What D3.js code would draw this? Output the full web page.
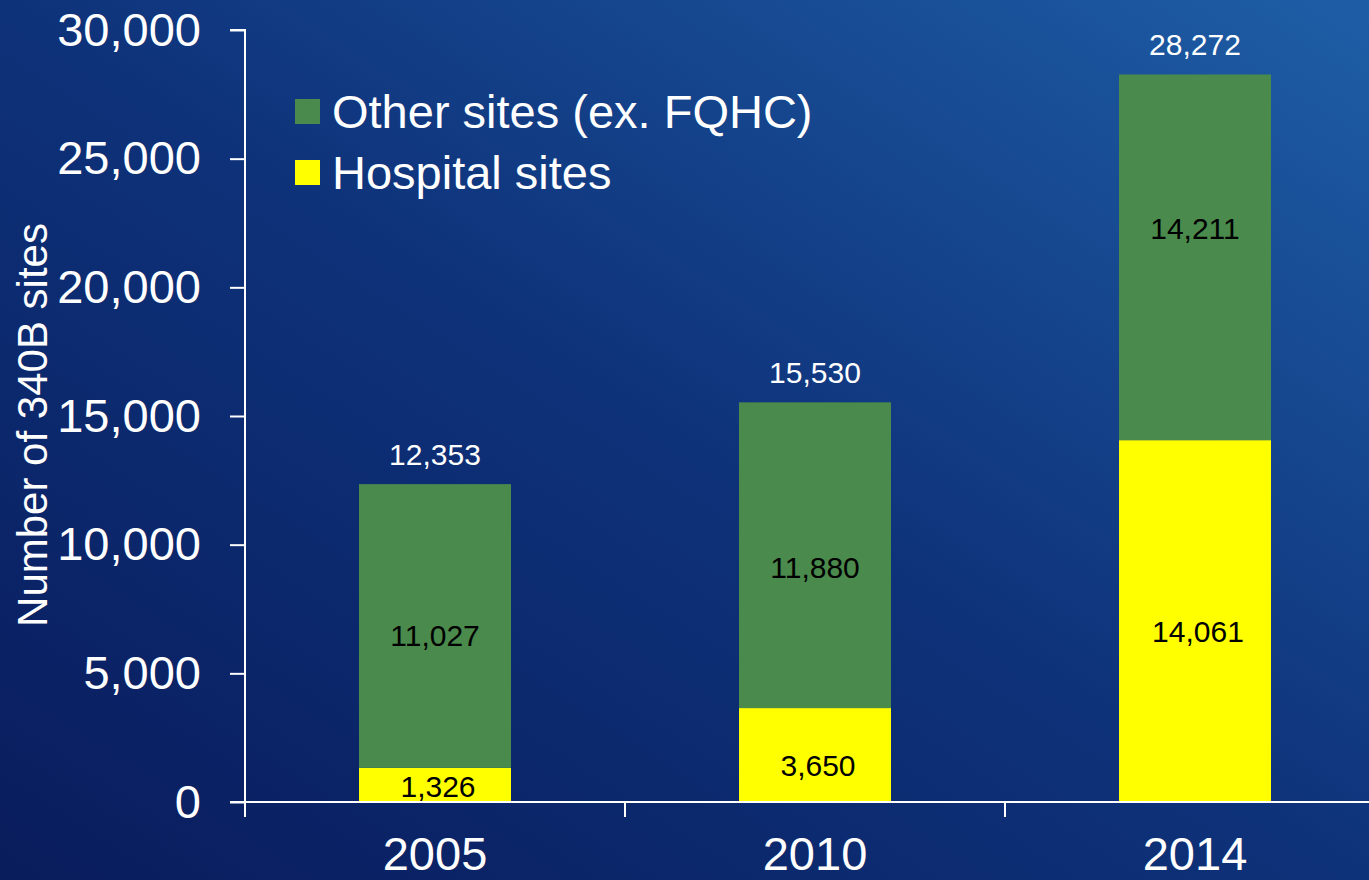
<!DOCTYPE html>
<html>
<head>
<meta charset="utf-8">
<script src="https://cdn.jsdelivr.net/npm/d3@7"></script>
<style>
  html, body { margin: 0; padding: 0; overflow: hidden; }
  svg { display: block; font-family: "Liberation Sans", Arial, sans-serif; }
</style>
</head>
<body>
<svg id="board" width="1369" height="880"></svg>
<script>
// data
let years = ['2005', '2010', '2014']
let hospitalSites = [1326, 3650, 14061]
let otherSites = [11027, 11880, 14211]
let totalSites = [12353, 15530, 28272]
let yTicks = [0, 5000, 10000, 15000, 20000, 25000, 30000]
let seriesNames = ['Other sites (ex. FQHC)', 'Hospital sites']

let green = '#4a8a4c'
let yellow = '#ffff00'

let svg = d3.select('#board')
let W = 1369, H = 880

// background gradient
let defs = svg.append('defs')
let grad = defs.append('linearGradient')
    .attr('id', 'bg')
    .attr('x1', '0%').attr('y1', '100%')
    .attr('x2', '100%').attr('y2', '0%')
grad.append('stop').attr('offset', '0%').attr('stop-color', '#091c5c')
grad.append('stop').attr('offset', '50%').attr('stop-color', '#0e327a')
grad.append('stop').attr('offset', '100%').attr('stop-color', '#1e5ea6')
svg.append('rect').attr('width', W).attr('height', H).attr('fill', 'url(#bg)')

let x = d3.scaleBand()
    .domain(years)
    .range([245, 1385])
    .paddingInner(0.6)
    .paddingOuter(0.3)

let y = d3.scaleLinear()
    .domain([0, 30000])
    .range([802, 30])

let fmt = d3.format(',')

// y axis
let yAxis = svg.append('g')
    .attr('transform', 'translate(245,0)')
    .call(d3.axisLeft(y).tickValues(yTicks).tickSize(15).tickPadding(29).tickFormat(fmt))
yAxis.selectAll('path, line').attr('stroke', '#fff').attr('stroke-width', 2)
yAxis.select('.domain').attr('d', 'M-15,' + y(30000) + 'H0V' + y(0))
yAxis.selectAll('text')
    .attr('fill', '#fff')
    .style('font-size', '47px')
    .style('font-family', '"Liberation Sans", Arial, sans-serif')

// x axis boundary ticks
let bounds = years.map((d) => x(d) - x.step() * x.paddingOuter())
svg.selectAll('.xtick')
    .data(bounds)
    .enter()
    .append('line')
    .attr('class', 'xtick')
    .attr('x1', (d) => d).attr('x2', (d) => d)
    .attr('y1', y(0)).attr('y2', y(0) + 15)
    .attr('stroke', '#fff').attr('stroke-width', 2)

svg.selectAll('.xlabel')
    .data(years)
    .enter()
    .append('text')
    .attr('class', 'xlabel')
    .attr('x', (d) => x(d) + x.bandwidth() / 2)
    .attr('y', 870)
    .attr('text-anchor', 'middle')
    .attr('fill', '#fff')
    .style('font-size', '47px')
    .text((d) => d)

// y title
svg.append('text')
    .attr('transform', 'translate(47,' + 425 + ') rotate(-90)')
    .attr('text-anchor', 'middle')
    .attr('fill', '#fff')
    .style('font-size', '42px')
    .text('Number of 340B sites')

// bars
let stackRows = years.map((d, i) => ({year: d, hosp: hospitalSites[i], other: otherSites[i], total: totalSites[i]}))

svg.selectAll('.hosp')
    .data(stackRows)
    .enter()
    .append('rect')
    .attr('class', 'hosp')
    .attr('x', (d) => x(d.year))
    .attr('width', x.bandwidth())
    .attr('y', (d) => y(d.hosp))
    .attr('height', (d) => y(0) - y(d.hosp))
    .attr('fill', yellow)

svg.selectAll('.other')
    .data(stackRows)
    .enter()
    .append('rect')
    .attr('class', 'other')
    .attr('x', (d) => x(d.year))
    .attr('width', x.bandwidth())
    .attr('y', (d) => y(d.hosp + d.other))
    .attr('height', (d) => y(d.hosp) - y(d.hosp + d.other))
    .attr('fill', green)

// axis line above bars
svg.append('line')
    .attr('x1', 230).attr('x2', W)
    .attr('y1', y(0)).attr('y2', y(0))
    .attr('stroke', '#fff').attr('stroke-width', 2)

// segment labels
svg.selectAll('.hlab')
    .data(stackRows)
    .enter()
    .append('text')
    .attr('class', 'hlab')
    .attr('x', (d) => x(d.year) + x.bandwidth() / 2 + 3)
    .attr('y', (d) => Math.min(y(d.hosp / 2) + 10, y(0) - 16))
    .attr('dy', '0.35em')
    .attr('text-anchor', 'middle')
    .attr('fill', '#000')
    .style('font-size', '30px')
    .text((d) => fmt(d.hosp))

// labels were hand-placed in the original, nudge a bit
let otherNudge = [10, 12, -29]
svg.selectAll('.olab')
    .data(stackRows)
    .enter()
    .append('text')
    .attr('class', 'olab')
    .attr('x', (d) => x(d.year) + x.bandwidth() / 2)
    .attr('y', (d, i) => y(d.hosp + d.other / 2) + otherNudge[i])
    .attr('dy', '0.35em')
    .attr('text-anchor', 'middle')
    .attr('fill', '#000')
    .style('font-size', '30px')
    .text((d) => fmt(d.other))

svg.selectAll('.tlab')
    .data(stackRows)
    .enter()
    .append('text')
    .attr('class', 'tlab')
    .attr('x', (d) => x(d.year) + x.bandwidth() / 2)
    .attr('y', (d) => y(d.total) - 30)
    .attr('dy', '0.35em')
    .attr('text-anchor', 'middle')
    .attr('fill', '#fff')
    .style('font-size', '30px')
    .text((d) => fmt(d.total))

// legend
let legend = svg.selectAll('.leg')
    .data(seriesNames)
    .enter()
    .append('g')
    .attr('class', 'leg')
    .attr('transform', (d, i) => 'translate(295,' + (99 + i * 61) + ')')
legend.append('rect')
    .attr('width', 25).attr('height', 25)
    .attr('fill', (d, i) => i === 0 ? green : yellow)
legend.append('text')
    .attr('x', 37).attr('y', 13)
    .attr('dy', '0.35em')
    .attr('fill', '#fff')
    .style('font-size', '47px')
    .text((d) => d)
</script>
</body>
</html>
